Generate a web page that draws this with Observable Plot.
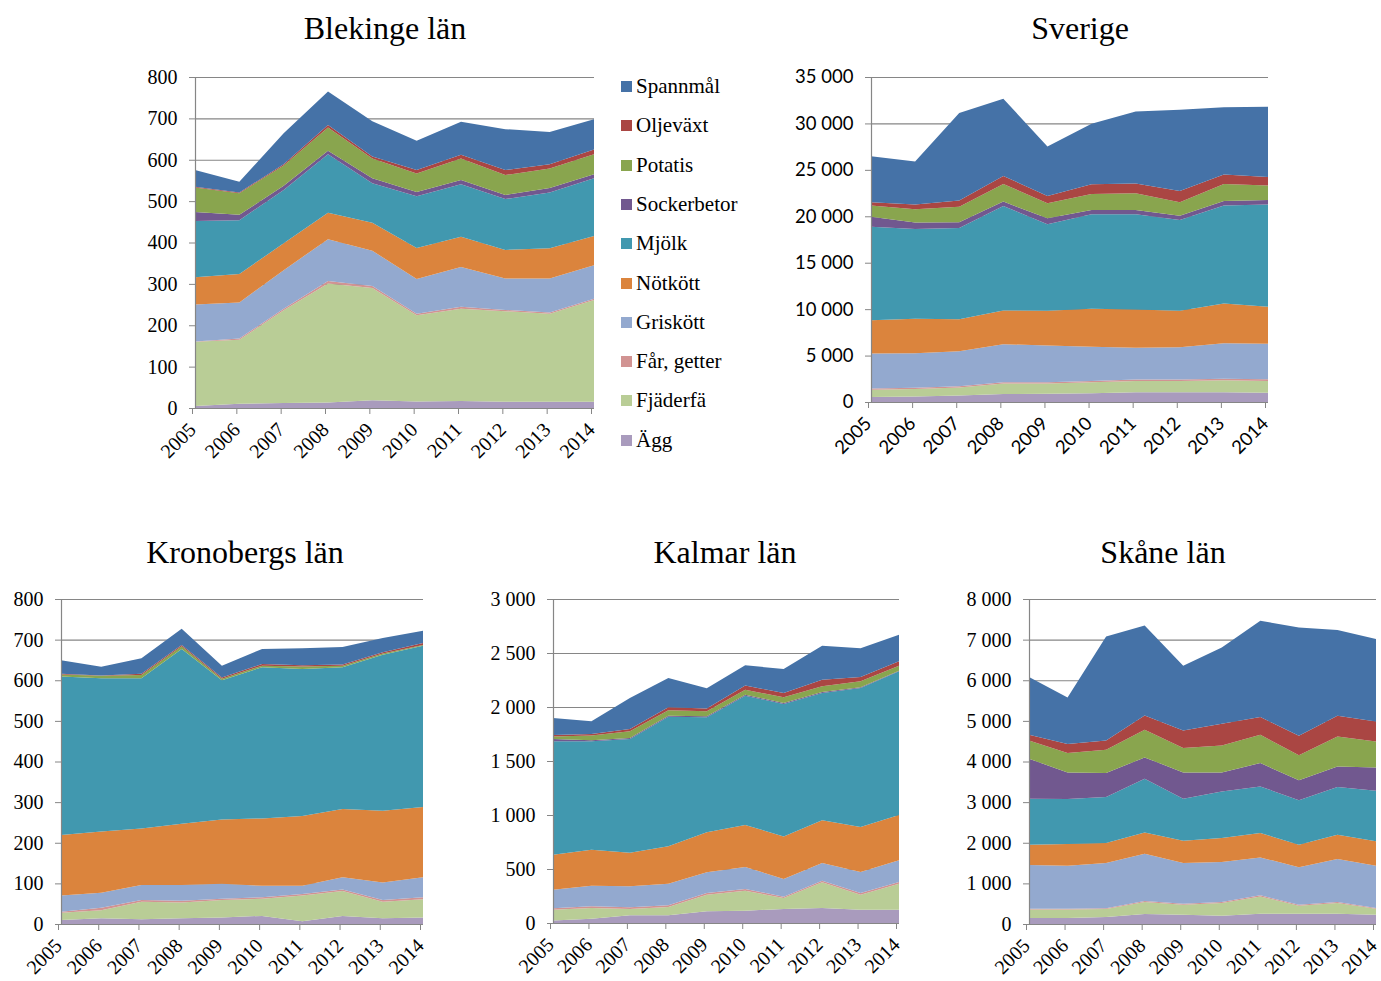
<!DOCTYPE html>
<html>
<head>
<meta charset="utf-8">
<script src="https://cdn.jsdelivr.net/npm/d3@7"></script>
<script src="https://cdn.jsdelivr.net/npm/@observablehq/plot@0.6"></script>
<style>
  html, body { margin: 0; padding: 0; background: #fff; }
  body { width: 1381px; height: 981px; position: relative; overflow: hidden; font-family: "Liberation Serif", "Times New Roman", serif; }
  .panel { position: absolute; }
  .title { position: absolute; font-size: 32px; color: #000; white-space: nowrap; transform: translateX(-50%); line-height: 1; }
  .legend { position: absolute; left: 621px; top: 76px; font-size: 21px; }
  .legend .item { position: absolute; left: 0; white-space: nowrap; line-height: 1; }
  .legend .sw { display: inline-block; width: 11px; height: 11px; margin-right: 4px; vertical-align: 1px; }
</style>
</head>
<body>
<script>
const years = [2005, 2006, 2007, 2008, 2009, 2010, 2011, 2012, 2013, 2014];
// bottom to top stacking order
const series = ["Ägg", "Fjäderfä", "Får, getter", "Griskött", "Nötkött", "Mjölk", "Sockerbetor", "Potatis", "Oljeväxt", "Spannmål"];
const colors = ["#A99BBD", "#B9CD96", "#D19392", "#93A9CF", "#DB843D", "#4198AF", "#71588F", "#89A54E", "#AA4643", "#4572A7"];
const legendOrder = ["Spannmål", "Oljeväxt", "Potatis", "Sockerbetor", "Mjölk", "Nötkött", "Griskött", "Får, getter", "Fjäderfä", "Ägg"];

// values per series (same order as `series`), one value per year
const blekinge = [
  [5, 10, 12, 13, 19, 16, 17, 15, 15, 15],
  [155, 155, 224, 288, 271, 208, 223, 219, 213, 246],
  [1, 3, 4, 6, 5, 4, 5, 3, 3, 3],
  [89, 87, 93, 101, 85, 84, 96, 76, 82, 81],
  [66, 69, 65, 64, 68, 75, 73, 69, 73, 71],
  [136, 130, 129, 141, 95, 125, 127, 123, 135, 139],
  [22, 13, 10, 9, 12, 10, 10, 10, 11, 10],
  [59, 52, 49, 56, 48, 45, 52, 48, 47, 48],
  [2, 2, 3, 6, 5, 8, 9, 12, 10, 12],
  [40, 26, 75, 81, 85, 71, 80, 99, 78, 73]
];
const sverige = [
  [550, 600, 700, 850, 900, 950, 1050, 1050, 1050, 1000],
  [780, 800, 850, 1130, 1080, 1170, 1220, 1220, 1290, 1270],
  [130, 130, 140, 150, 150, 150, 160, 160, 160, 170],
  [3760, 3720, 3780, 4090, 3950, 3670, 3400, 3470, 3830, 3820],
  [3590, 3710, 3450, 3640, 3740, 4100, 4130, 3920, 4280, 3990],
  [10070, 9670, 9820, 11260, 9320, 10180, 10260, 9780, 10540, 11010],
  [1080, 690, 610, 460, 640, 460, 460, 470, 500, 500],
  [1190, 1430, 1690, 1910, 1620, 1730, 1800, 1440, 1840, 1550],
  [360, 510, 650, 860, 790, 1040, 1050, 1220, 1010, 930],
  [4960, 4640, 9420, 8310, 5330, 6510, 7760, 8740, 7230, 7560]
];
const kronoberg = [
  [10, 14, 12, 14, 16, 20, 7, 20, 14, 16],
  [18, 20, 43, 39, 43, 42, 63, 61, 41, 45],
  [2, 6, 4, 4, 3, 4, 4, 4, 4, 5],
  [40, 37, 37, 39, 37, 28, 20, 30, 43, 49],
  [149, 151, 139, 151, 158, 166, 172, 168, 177, 173],
  [390, 377, 370, 430, 343, 372, 362, 349, 384, 397],
  [0, 0, 0, 0, 0, 0, 0, 0, 0, 0],
  [5, 6, 8, 7, 4, 4, 6, 4, 3, 2],
  [2, 1, 3, 3, 3, 4, 3, 3, 3, 5],
  [33, 21, 38, 40, 29, 37, 42, 43, 35, 30]
];
const kalmar = [
  [22, 40, 71, 71, 108, 114, 130, 139, 123, 123],
  [101, 99, 59, 77, 154, 185, 101, 238, 139, 241],
  [13, 15, 15, 16, 16, 16, 13, 15, 16, 16],
  [173, 192, 195, 200, 191, 204, 163, 164, 194, 200],
  [324, 333, 311, 346, 371, 388, 395, 395, 417, 420],
  [1049, 1003, 1053, 1200, 1064, 1198, 1226, 1179, 1287, 1330],
  [22, 9, 9, 10, 10, 9, 9, 9, 6, 6],
  [24, 44, 62, 49, 46, 46, 53, 52, 56, 47],
  [13, 15, 21, 28, 25, 38, 40, 62, 40, 40],
  [157, 117, 287, 272, 188, 188, 222, 315, 265, 247]
];
const skane = [
  [150, 150, 170, 245, 230, 205, 255, 255, 255, 230],
  [205, 205, 200, 295, 245, 310, 425, 195, 260, 145],
  [20, 20, 20, 25, 25, 25, 25, 25, 25, 20],
  [1075, 1060, 1110, 1165, 1000, 985, 935, 920, 1060, 1040],
  [500, 533, 492, 525, 550, 591, 599, 557, 599, 599],
  [1133, 1107, 1132, 1321, 1034, 1148, 1148, 1092, 1173, 1246],
  [984, 657, 591, 525, 648, 468, 574, 492, 508, 575],
  [451, 475, 574, 680, 598, 664, 697, 615, 738, 639],
  [139, 222, 230, 353, 435, 533, 435, 483, 509, 492],
  [1420, 1148, 2560, 2215, 1592, 1880, 2371, 2666, 2108, 2027]
];

const ticksBlekinge = d3.range(0, 801, 100);
const ticksSverige = d3.range(0, 35001, 5000);
const ticksKronoberg = d3.range(0, 801, 100);
const ticksKalmar = d3.range(0, 3001, 500);
const ticksSkane = d3.range(0, 8001, 1000);

const fmt = d => d3.format(",")(d).replace(/,/g, "\u00a0");
const gray = "#868686";
const serif = "'Liberation Serif', 'Times New Roman', serif";
const sans = "Lato, 'Open Sans', sans-serif";

function makePanel(values, ticks, box, font) {
  const data = [];
  series.forEach((s, i) => years.forEach((y, j) => data.push({ series: s, year: y, value: values[i][j] })));
  const chart = Plot.plot({
    width: box.W, height: box.H,
    marginLeft: box.ml, marginTop: box.mt, marginRight: box.mr, marginBottom: box.mb,
    style: { fontFamily: font.family, background: "transparent", color: "#000", overflow: "visible" },
    x: { domain: [2005, 2014] },
    y: { domain: [0, ticks[ticks.length - 1]] },
    color: { domain: series, range: colors },
    marks: [
      Plot.ruleY(ticks, { stroke: gray, strokeWidth: 1.2 }),
      Plot.areaY(data, { x: "year", y: "value", z: "series", fill: "series", order: series }),
      Plot.ruleX([2005], { stroke: gray, strokeWidth: 1.2 }),
      Plot.ruleY([0], { stroke: gray, strokeWidth: 1.2 }),
      Plot.axisY({ ticks, tickFormat: fmt, tickSize: 6, tickPadding: 12, stroke: gray, fill: "#000", fontSize: font.size, label: null }),
      Plot.axisX({ ticks: years, tickFormat: d => String(d), tickSize: 6, tickPadding: 12, tickRotate: -45, dx: -3, stroke: gray, fill: "#000", fontSize: font.size, label: null })
    ]
  });
  const div = document.createElement("div");
  div.className = "panel";
  div.style.left = box.L + "px";
  div.style.top = box.T + "px";
  div.appendChild(chart);
  document.body.appendChild(div);
}

function addTitle(text, cx, top) {
  const t = document.createElement("div");
  t.className = "title";
  t.textContent = text;
  t.style.left = cx + "px";
  t.style.top = top + "px";
  document.body.appendChild(t);
}

const serifFont = { family: serif, size: 20 };
const sansFont = { family: sans, size: 18.5 };

makePanel(blekinge, ticksBlekinge, { L: 130, T: 60, ml: 65, mt: 17, mr: 10, mb: 60, W: 474, H: 408 }, serifFont);
makePanel(sverige, ticksSverige, { L: 780, T: 60, ml: 91, mt: 17, mr: 15, mb: 60, W: 503, H: 402 }, sansFont);
makePanel(kronoberg, ticksKronoberg, { L: 0, T: 580, ml: 61, mt: 19, mr: 15, mb: 60, W: 438, H: 404 }, serifFont);
makePanel(kalmar, ticksKalmar, { L: 470, T: 580, ml: 83, mt: 19, mr: 15, mb: 60, W: 444, H: 403 }, serifFont);
makePanel(skane, ticksSkane, { L: 950, T: 580, ml: 79, mt: 19, mr: 5, mb: 60, W: 431, H: 404 }, serifFont);

addTitle("Blekinge län", 385, 12);
addTitle("Sverige", 1080, 12);
addTitle("Kronobergs län", 245, 536);
addTitle("Kalmar län", 725, 536);
addTitle("Skåne län", 1163, 536);

const legend = document.createElement("div");
legend.className = "legend";
legendOrder.forEach((s, i) => {
  const it = document.createElement("div");
  it.className = "item";
  it.style.top = (i * 39.3) + "px";
  const sw = document.createElement("span");
  sw.className = "sw";
  sw.style.background = colors[series.indexOf(s)];
  it.appendChild(sw);
  it.appendChild(document.createTextNode(s));
  legend.appendChild(it);
});
document.body.appendChild(legend);
</script>
</body>
</html>
